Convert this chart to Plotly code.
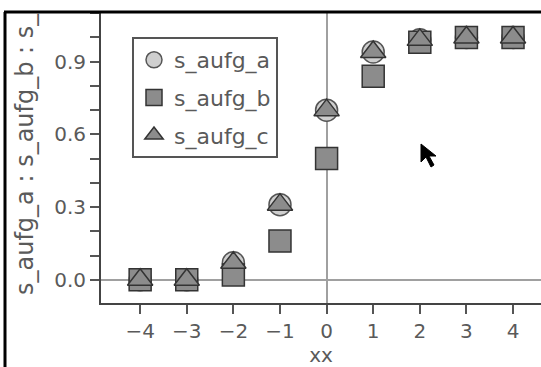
import plotly.graph_objects as go

xx = [-4, -3, -2, -1, 0, 1, 2, 3, 4]
s_aufg_a = [0.0, 0.0, 0.07, 0.31, 0.70, 0.94, 0.99, 1.0, 1.0]
s_aufg_b = [0.0, 0.0, 0.02, 0.16, 0.50, 0.84, 0.98, 1.0, 1.0]
s_aufg_c = [0.0, 0.0, 0.07, 0.31, 0.70, 0.94, 0.99, 1.0, 1.0]

W, H = 541, 367
L, R, T, B = 101, 0, 12, 64
pw, ph = W - L - R, H - T - B

def px(x):
    return (x - L) / pw

def py(y):
    return (H - B - y) / ph

txt = "#5a5a5a"
edge = "#333333"
FONT = "DejaVu Sans, Verdana, sans-serif"

fig = go.Figure()
fig.add_trace(go.Scatter(x=xx, y=s_aufg_a, mode="markers", name="s_aufg_a", legendgroup="a",
                         marker=dict(symbol="circle", size=22, color="#cfcfcf",
                                     line=dict(color="#555555", width=1.5))))
fig.add_trace(go.Scatter(x=xx, y=s_aufg_b, mode="markers", name="s_aufg_b", legendgroup="b",
                         marker=dict(symbol="square", size=22, color="#8c8c8c",
                                     line=dict(color=edge, width=1.5))))
fig.add_trace(go.Scatter(x=xx, y=s_aufg_c, mode="markers", name="s_aufg_c", legendgroup="c",
                         marker=dict(symbol="triangle-up", size=22, color="#8c8c8c",
                                     line=dict(color=edge, width=1.5))))

shapes = [
    dict(type="line", xref="paper", yref="paper", x0=px(4), x1=px(W), y0=py(12), y1=py(12),
         line=dict(color="black", width=3)),
    dict(type="line", xref="paper", yref="paper", x0=px(5), x1=px(5), y0=py(12), y1=py(H),
         line=dict(color="black", width=3)),
    dict(type="path", xref="paper", yref="paper",
         path="M {} {} L {} {} L {} {} L {} {} L {} {} L {} {} L {} {} Z".format(
             px(421), py(144), px(421), py(162), px(426), py(157), px(431), py(167),
             px(434), py(165), px(429), py(156), px(436), py(156)),
         fillcolor="black", line=dict(color="black", width=1)),
]

annotations = [
    dict(text="s_aufg_a : s_aufg_b : s_", textangle=-90, xref="paper", yref="paper",
         x=px(25), y=py(297), xanchor="center", yanchor="bottom", showarrow=False,
         font=dict(family=FONT, size=24, color=txt)),
]

fig.update_layout(
    width=W, height=H,
    margin=dict(l=L, r=R, t=T, b=B),
    paper_bgcolor="white", plot_bgcolor="white",
    font=dict(family=FONT, color=txt, size=20),
    showlegend=True,
    legend=dict(x=px(132), y=py(37), xanchor="left", yanchor="top",
                bgcolor="white", bordercolor="#555555", borderwidth=2,
                font=dict(family=FONT, size=22, color=txt), tracegroupgap=6,
                itemsizing="trace", itemwidth=30),
    xaxis=dict(range=[-4.84, 4.6], tickmode="array", tickvals=xx,
               ticktext=[str(v).replace("-", "\u2212") for v in xx],
               ticks="outside", ticklen=9, tickwidth=1.5, tickcolor="#555555",
               tickfont=dict(family=FONT, size=20, color=txt),
               showline=True, linecolor="#444444", linewidth=2,
               showgrid=False, zeroline=True, zerolinecolor="#a0a0a0", zerolinewidth=1.5,
               title=dict(text="xx", font=dict(family=FONT, size=20, color=txt), standoff=0)),
    yaxis=dict(range=[-0.096, 1.105], tickmode="array", tickvals=[0, 0.3, 0.6, 0.9],
               ticktext=["0.0", "0.3", "0.6", "0.9"],
               ticks="outside", ticklen=9, tickwidth=1.5, tickcolor="#555555",
               tickfont=dict(family=FONT, size=20, color=txt),
               minor=dict(dtick=0.1, tick0=0, ticks="outside", ticklen=9, tickwidth=1.5,
                          tickcolor="#555555", showgrid=False),
               showline=True, linecolor="#444444", linewidth=2,
               showgrid=False, zeroline=True, zerolinecolor="#a0a0a0", zerolinewidth=1.5),
    shapes=shapes,
    annotations=annotations,
)

fig.write_html("out.html", post_script="document.body.style.margin='0';",
               config={"displayModeBar": False})
